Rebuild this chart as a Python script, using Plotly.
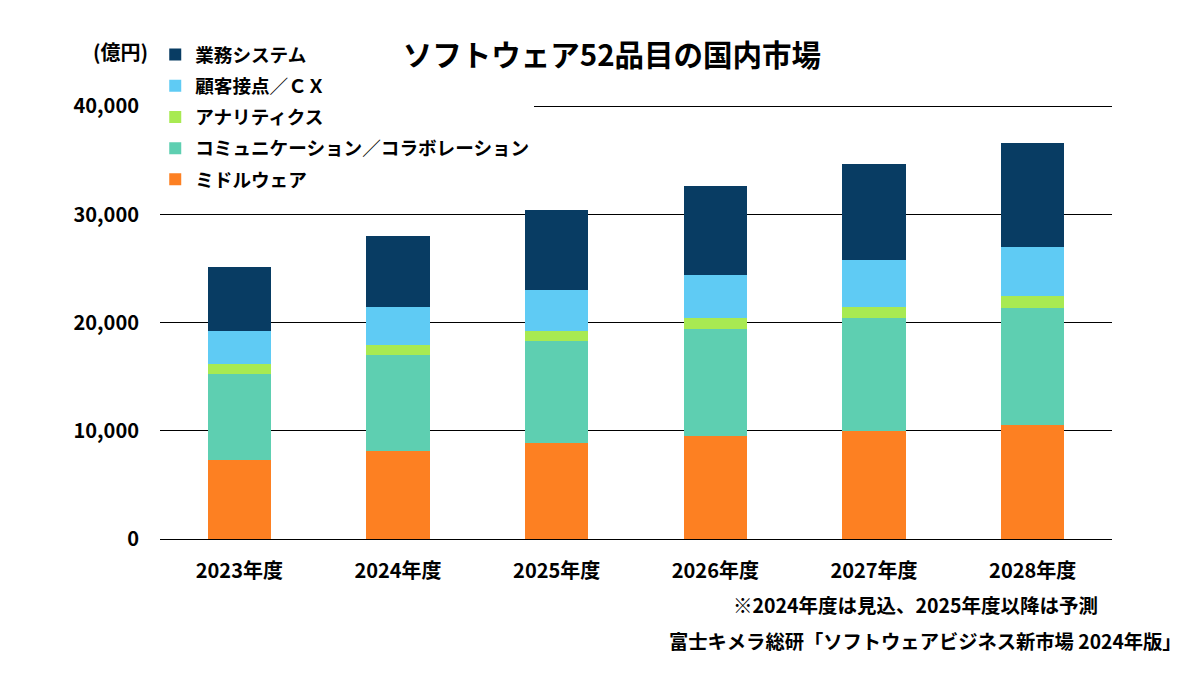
import plotly.graph_objects as go

years = ["2023年度", "2024年度", "2025年度", "2026年度", "2027年度", "2028年度"]
middleware = [7340, 8140, 8880, 9560, 9990, 10550]
communication = [7920, 8880, 9440, 9870, 10450, 10820]
analytics = [930, 930, 920, 1010, 1020, 1140]
cx = [3050, 3510, 3790, 3980, 4350, 4500]
business = [5920, 6570, 7400, 8230, 8880, 9620]

series_names = ["ミドルウェア", "コミュニケーション／コラボレーション", "アナリティクス", "顧客接点／ＣＸ", "業務システム"]
series_values = [middleware, communication, analytics, cx, business]
series_colors = ["#FD8022", "#5ECFB1", "#A8EA52", "#5FCBF4", "#083C63"]

tick_vals = [0, 10000, 20000, 30000, 40000]
tick_text = ["0", "10,000", "20,000", "30,000", "40,000"]

FONT = "Noto Sans CJK JP"

fig = go.Figure()
n = len(series_names)
for i, (name, vals, col) in enumerate(zip(series_names, series_values, series_colors)):
    fig.add_trace(go.Bar(x=years, y=vals, name=name, legendgroup=f"g{i}",
                         legendrank=1000 + (n - i),
                         marker=dict(color=col, line=dict(width=0))))

# plot area: 152..1104 x, 94..531 y (figure coords)
PH = 437.0
def py(yfig):
    return (531 - yfig) / PH

fig.update_layout(
    barmode="stack",
    bargap=0.6,
    width=1200, height=675,
    margin=dict(l=152, r=96, t=94, b=144),
    paper_bgcolor="white", plot_bgcolor="white",
    font=dict(family=FONT, size=16, color="black"),
    legend=dict(
        x=-0.005, y=py(28), xanchor="left", yanchor="top",
        traceorder="grouped",
        tracegroupgap=4,
        bgcolor="white",
        font=dict(family=FONT, size=18.6, color="black", weight="bold"),
        itemwidth=30,
    ),
    title=dict(
        text="<b>ソフトウェア52品目の国内市場</b>",
        x=0.5033, xanchor="center", y=0.930, yanchor="middle",
        font=dict(family=FONT, size=29.5, color="black"),
    ),
    xaxis=dict(
        showgrid=False, showline=True, linecolor="black", linewidth=1,
        ticks="", ticklabelstandoff=14,
        tickfont=dict(family=FONT, size=20, color="black", weight="bold"),
    ),
    yaxis=dict(
        range=[0, 40400], tickvals=tick_vals, ticktext=tick_text,
        showgrid=True, gridcolor="black", gridwidth=1,
        zeroline=True, zerolinecolor="black", zerolinewidth=1,
        ticks="", ticklabelstandoff=20,
        tickfont=dict(family=FONT, size=20, color="black", weight="bold"),
    ),
    annotations=[
        dict(text="<b>(億円)</b>", xref="paper", yref="paper", x=-0.0105, y=py(44),
             xanchor="right", yanchor="middle", showarrow=False,
             font=dict(family=FONT, size=20, color="black")),
        dict(text="<b>※2024年度は見込、2025年度以降は予測</b>", xref="paper", yref="paper",
             x=0.9874, y=py(596), xanchor="right", yanchor="middle", showarrow=False,
             font=dict(family=FONT, size=19.5, color="black")),
        dict(text="<b>富士キメラ総研「ソフトウェアビジネス新市場 2024年版」</b>", xref="paper", yref="paper",
             x=1.0756, y=py(633), xanchor="right", yanchor="middle", showarrow=False,
             font=dict(family=FONT, size=19.3, color="black")),
    ],
)

fig.write_html("out.html")
